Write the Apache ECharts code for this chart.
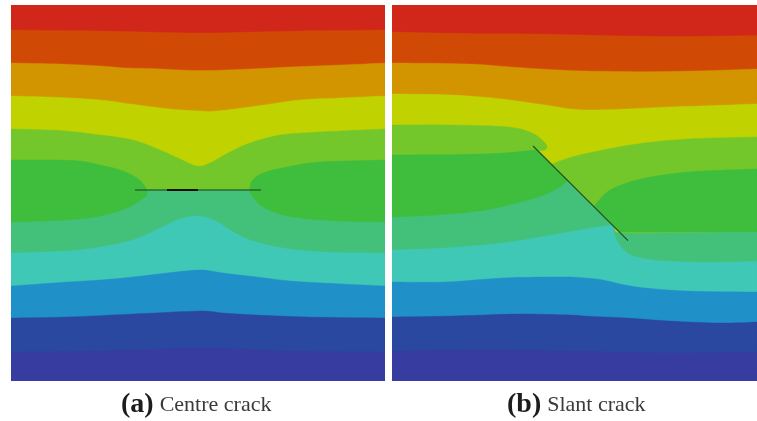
<!DOCTYPE html>
<html><head><meta charset="utf-8">
<style>html,body{margin:0;padding:0;background:#fff}#c{width:757px;height:421px}</style>
<script src="https://cdn.jsdelivr.net/npm/echarts@6/dist/echarts.min.js"></script>
</head><body><div id="c"></div>
<script>
// Band colours of the contour field
const red='#d1271a', orange='#d14a05', amber='#d29500', yellow='#c0d300', lime='#73c72b',
      green='#3ebe3c', sea='#43c17a', teal='#40c8b6', blue='#2091c8', navy='#2a48a0', indigo='#373ca0';

// Panel (a): contour lines, in panel units (x 0-374, y 0-376 measured downward)
const aLine1=[[0,25],[89,26],[189,28],[239,27],[289,26],[374,25]];
const aLine2=[[0,58],[49,59],[89,61],[114,63],[139,63.5],[189,65.5],[239,64],[279,62],[329,60],[374,58]];
const aLine3=[[0,91],[49,92.5],[89,95],[119,99],[159,104],[189,106],[206,106],[246,101],[289,95],[329,93],[374,91]];
const aLine4=[[0,124],[49,125.5],[89,130],[122,135],[149,145],[169,154],[186,161],[199,158],[219,147],[239,138],[269,130],[309,127],[374,124]];
const aLensLeft=[[0,155],[40,155],[69,156],[89,160],[109,165],[126,173],[135,183],[136,188],[134,192],[116,203],[89,211],[56,215],[0,217]];
const aLensRight=[[374,155],[309,157],[276,162],[252,168],[241,176],[239,185],[240,189],[249,200],[266,208],[289,213],[329,216],[374,217]];
const aCrackTop=[[0,185],[374,185]];
const aLine6=[[0,248],[56,246],[89,242],[122,235],[149,223],[169,214],[187,211],[205,216],[219,225],[239,235],[272,243],[312,247],[374,248]];
const aLine7=[[0,281],[56,277],[89,275],[122,272],[156,268],[189,265],[212,268],[246,272],[279,276],[312,278],[374,281]];
const aLine8=[[0,313],[56,312],[122,309],[189,306],[212,308],[246,310],[296,312],[374,313]];
const aLine9=[[0,347],[89,346],[189,343],[279,346],[374,347]];
const aCrack=[[124,185],[250,185]];
const aCrackCore=[[156,185],[187,185]];
const aFrame=[[0,0],[374,0],[374,376],[0,376]];
const aFloor=[[374,376],[0,376]];

// Panel (b): contour lines, in panel units (x 0-365, y 0-376 measured downward)
const bLine1=[[0,27],[73,28.5],[143,29],[193,30],[278,31.5],[365,30.5]];
const bLine2=[[0,58],[76,59],[133,63],[193,66],[278,66.5],[365,64]];
const bLine3=[[0,89],[60,90],[110,94],[153,100],[195,105],[278,102],[365,99]];
const bLensTop=[[0,120],[60,120],[116,122],[140,128],[153,138],[154,144],[144,146],[93,149],[0,150]];
const bGreenLower=[[176,175.5],[166,183],[143,193],[93,205],[43,210],[0,212]];
const bGreenUpper=[[0,150],[93,149],[144,145]];
const bGreenCrack=[[144,145],[176,175.5]];
const bSeaBox=[[0,150],[144,145],[222,222],[222,262],[0,262]];
const bTealTop=[[0,245],[53,243],[110,238],[160,230],[193,224],[220,220]];
const bTealBox=[[220,220],[230,240],[365,240],[365,376],[0,376]];
const bLimeTop=[[160,159],[180,152],[211,145],[245,139],[295,134],[365,132]];
const bLimeBox=[[365,132],[365,240],[236,240],[236,235.7],[160,159]];
const bGreenTop=[[202,201],[218,185],[245,175],[278,169],[311,166],[365,164]];
const bGreenBox=[[365,164],[365,227],[228,227],[202,201]];
const bSeaLensTop=[[222,222],[228,228],[278,228],[365,227]];
const bSeaLensEdge=[[365,227],[365,256]];
const bSeaLensLow=[[365,256],[311,257],[265,255],[240,250],[228,240],[223,229],[222,222]];
const bLine7=[[0,277],[53,277],[110,273],[153,272],[178,272],[193,273],[211,275],[245,282],[295,286],[365,287]];
const bLine8=[[0,312],[60,311],[126,309],[178,310],[193,311],[235,313],[278,316],[328,318],[365,317]];
const bLine9=[[0,346],[93,345],[178,346],[278,348],[365,347]];
const bCrack=[[141,141],[236,235.7]];
const bFrame=[[0,0],[365,0],[365,376],[0,376]];
const bFloor=[[365,376],[0,376]];

// Painted in order, each layer overlapping the previous ones
const aLayers=[
  [red,[aFrame]],[orange,[aLine1,aFloor]],[amber,[aLine2,aFloor]],[yellow,[aLine3,aFloor]],[lime,[aLine4,aFloor]],
  [sea,[aCrackTop,aFloor]],[green,[aLensLeft]],[green,[aLensRight]],
  [teal,[aLine6,aFloor]],[blue,[aLine7,aFloor]],[navy,[aLine8,aFloor]],[indigo,[aLine9,aFloor]]
];
const bLayers=[
  [red,[bFrame]],[orange,[bLine1,bFloor]],[amber,[bLine2,bFloor]],[yellow,[bLine3,bFloor]],
  [sea,[bSeaBox]],[teal,[bTealTop,bTealBox]],[lime,[bLensTop]],
  [green,[bGreenUpper,bGreenCrack,bGreenLower]],
  [lime,[bLimeTop,bLimeBox]],[green,[bGreenTop,bGreenBox]],
  [sea,[bSeaLensTop,bSeaLensEdge,bSeaLensLow]],
  [blue,[bLine7,bFloor]],[navy,[bLine8,bFloor]],[indigo,[bLine9,bFloor]]
];

// Draws a contour curve smoothly between its read points (Catmull-Rom), straight if only two
function smoothPath(p){
  if(p.length<3) return p.slice();
  const out=[];
  for(let i=0;i<p.length-1;i++){
    const a=p[Math.max(i-1,0)],b=p[i],c=p[i+1],d=p[Math.min(i+2,p.length-1)];
    for(let k=0;k<8;k++){
      const t=k/8,t2=t*t,t3=t2*t;
      out.push([0,1].map(j=>0.5*(2*b[j]+(c[j]-a[j])*t+(2*a[j]-5*b[j]+4*c[j]-d[j])*t2+(3*b[j]-a[j]-3*c[j]+d[j])*t3)));
    }
  }
  out.push(p[p.length-1]);
  return out;
}
const straightSegs=new Set([bLimeBox,bGreenBox,bTealBox,bSeaBox,bGreenCrack,aFloor,bFloor,aFrame,bFrame]);
function bandSeries(layers,idx){
  return layers.map(([color,segs],n)=>({
    type:'custom',name:'band'+idx+'-'+n,coordinateSystem:'cartesian2d',xAxisIndex:idx,yAxisIndex:idx,
    z:2+n*0.01,silent:true,clip:true,animation:false,
    encode:{x:0,y:1},
    data:segs.flat(),
    renderItem(params,api){
      if(params.dataIndex!==0) return null;
      const pts=[];
      segs.forEach(s=>(straightSegs.has(s)?s:smoothPath(s)).forEach(q=>pts.push(api.coord(q))));
      return {type:'polygon',shape:{points:pts},style:{fill:color,stroke:color,lineWidth:0.4}};
    }
  }));
}
function crackSeries(data,idx,width,color){
  return {type:'line',xAxisIndex:idx,yAxisIndex:idx,data:data,symbol:'none',silent:true,z:5,animation:false,
    lineStyle:{color:color,width:width}};
}
const hiddenX=(max,g)=>({type:'value',gridIndex:g,min:0,max:max,show:false});
const hiddenY=(g)=>({type:'value',gridIndex:g,min:0,max:376,inverse:true,show:false});

const chart=echarts.init(document.getElementById('c'),null,{renderer:'canvas'});
const capA={a:{fontFamily:'Liberation Serif',fontWeight:'bold',fontSize:28,color:'#1c1c1c'},
            b:{fontFamily:'Liberation Serif',fontWeight:'normal',fontSize:22,color:'#3a3a3a',padding:[0,0,0,6]}};
chart.setOption({
  animation:false,backgroundColor:'#fff',
  title:[
    {text:'{a|(a)}{b|Centre crack}',left:121,top:391,padding:0,textStyle:{rich:capA}},
    {text:'{a|(b)}{b|Slant crack}',left:507,top:391,padding:0,textStyle:{rich:capA}}
  ],
  grid:[{left:11,top:5,width:374,height:376},{left:392,top:5,width:365,height:376}],
  xAxis:[hiddenX(374,0),hiddenX(365,1)],
  yAxis:[hiddenY(0),hiddenY(1)],
  series:[
    ...bandSeries(aLayers,0),
    ...bandSeries(bLayers,1),
    crackSeries(aCrack,0,1.2,'#14401a'),
    crackSeries(aCrackCore,0,2,'#0a0f0a'),
    crackSeries(bCrack,1,1.1,'#1c4a24')
  ]
});
</script></body></html>
